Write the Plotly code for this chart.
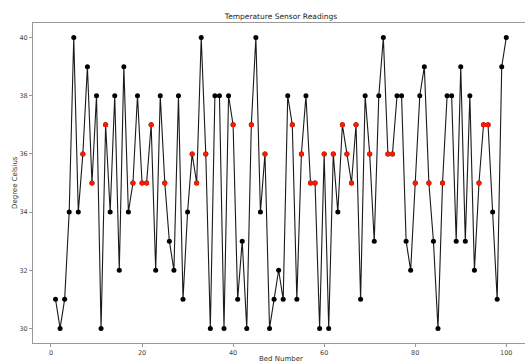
import plotly.graph_objects as go

beds = list(range(1, 101))
temps = [31, 30, 31, 34, 40, 34, 36, 39, 35, 38,
         30, 37, 34, 38, 32, 39, 34, 35, 38, 35,
         35, 37, 32, 38, 35, 33, 32, 38, 31, 34,
         36, 35, 40, 36, 30, 38, 38, 30, 38, 37,
         31, 33, 30, 37, 40, 34, 36, 30, 31, 32,
         31, 38, 37, 31, 36, 38, 35, 35, 30, 36,
         30, 36, 34, 37, 36, 35, 37, 31, 38, 36,
         33, 38, 40, 36, 36, 38, 38, 33, 32, 35,
         38, 39, 35, 33, 30, 35, 38, 38, 33, 39,
         33, 38, 32, 35, 37, 37, 34, 31, 39, 40]
normal_low, normal_high = 35, 37
x_ticks = [0, 20, 40, 60, 80, 100]
y_ticks = [30, 32, 34, 36, 38, 40]

red_x = [b for b, t in zip(beds, temps) if normal_low <= t <= normal_high]
red_y = [t for t in temps if normal_low <= t <= normal_high]

font = "DejaVu Sans"
W, H = 525, 363
L, R, T, B = 33, 0, 23, 20
px_per_x = 4.553

fig = go.Figure()
fig.add_trace(go.Scatter(x=beds, y=temps, mode="lines+markers",
                         line=dict(color="#1a1a1a", width=1.1),
                         marker=dict(color="black", size=5),
                         showlegend=False, hoverinfo="skip"))
fig.add_trace(go.Scatter(x=red_x, y=red_y, mode="markers",
                         marker=dict(color="#ff1800", size=5,
                                     line=dict(width=0)),
                         showlegend=False, hoverinfo="skip"))

x0 = -3.95
x1 = x0 + (W - L - R) / px_per_x
pw = W - L - R
ph = H - T - B
fig.update_layout(
    width=W, height=H,
    margin=dict(l=L, r=R, t=T, b=B, pad=0),
    paper_bgcolor="white", plot_bgcolor="white",
    font=dict(family=font, size=7, color="#333"),
    title=dict(text="Temperature Sensor Readings", x=281 / W, xref="container",
               xanchor="center", y=1 - 16 / H, yref="container", yanchor="middle",
               font=dict(family=font, size=7.5, color="#222")),
    xaxis=dict(range=[x0, x1], tickvals=x_ticks, showgrid=False, zeroline=False,
               showline=True, linecolor="#999", linewidth=1, mirror=True,
               ticks="outside", ticklen=3, tickcolor="#999", tickwidth=1,
               tickfont=dict(family=font, size=6.5, color="#444")),
    yaxis=dict(range=[29.5, 40.5], tickvals=y_ticks, showgrid=False, zeroline=False,
               showline=True, linecolor="#999", linewidth=1, mirror=False,
               ticks="outside", ticklen=3, tickcolor="#999", tickwidth=1,
               tickfont=dict(family=font, size=6.5, color="#444")),
    annotations=[
        dict(text="Bed Number", x=(281 - L) / pw, y=1 - (359 - T) / ph,
             xref="paper", yref="paper",
             showarrow=False, font=dict(family=font, size=7, color="#333"),
             xanchor="center", yanchor="middle"),
        dict(text="Degree Celsius", x=(15 - L) / pw, y=1 - (183 - T) / ph,
             xref="paper", yref="paper",
             showarrow=False, textangle=-90, font=dict(family=font, size=7, color="#333"),
             xanchor="center", yanchor="middle"),
    ],
)

fig.write_html("out.html")
